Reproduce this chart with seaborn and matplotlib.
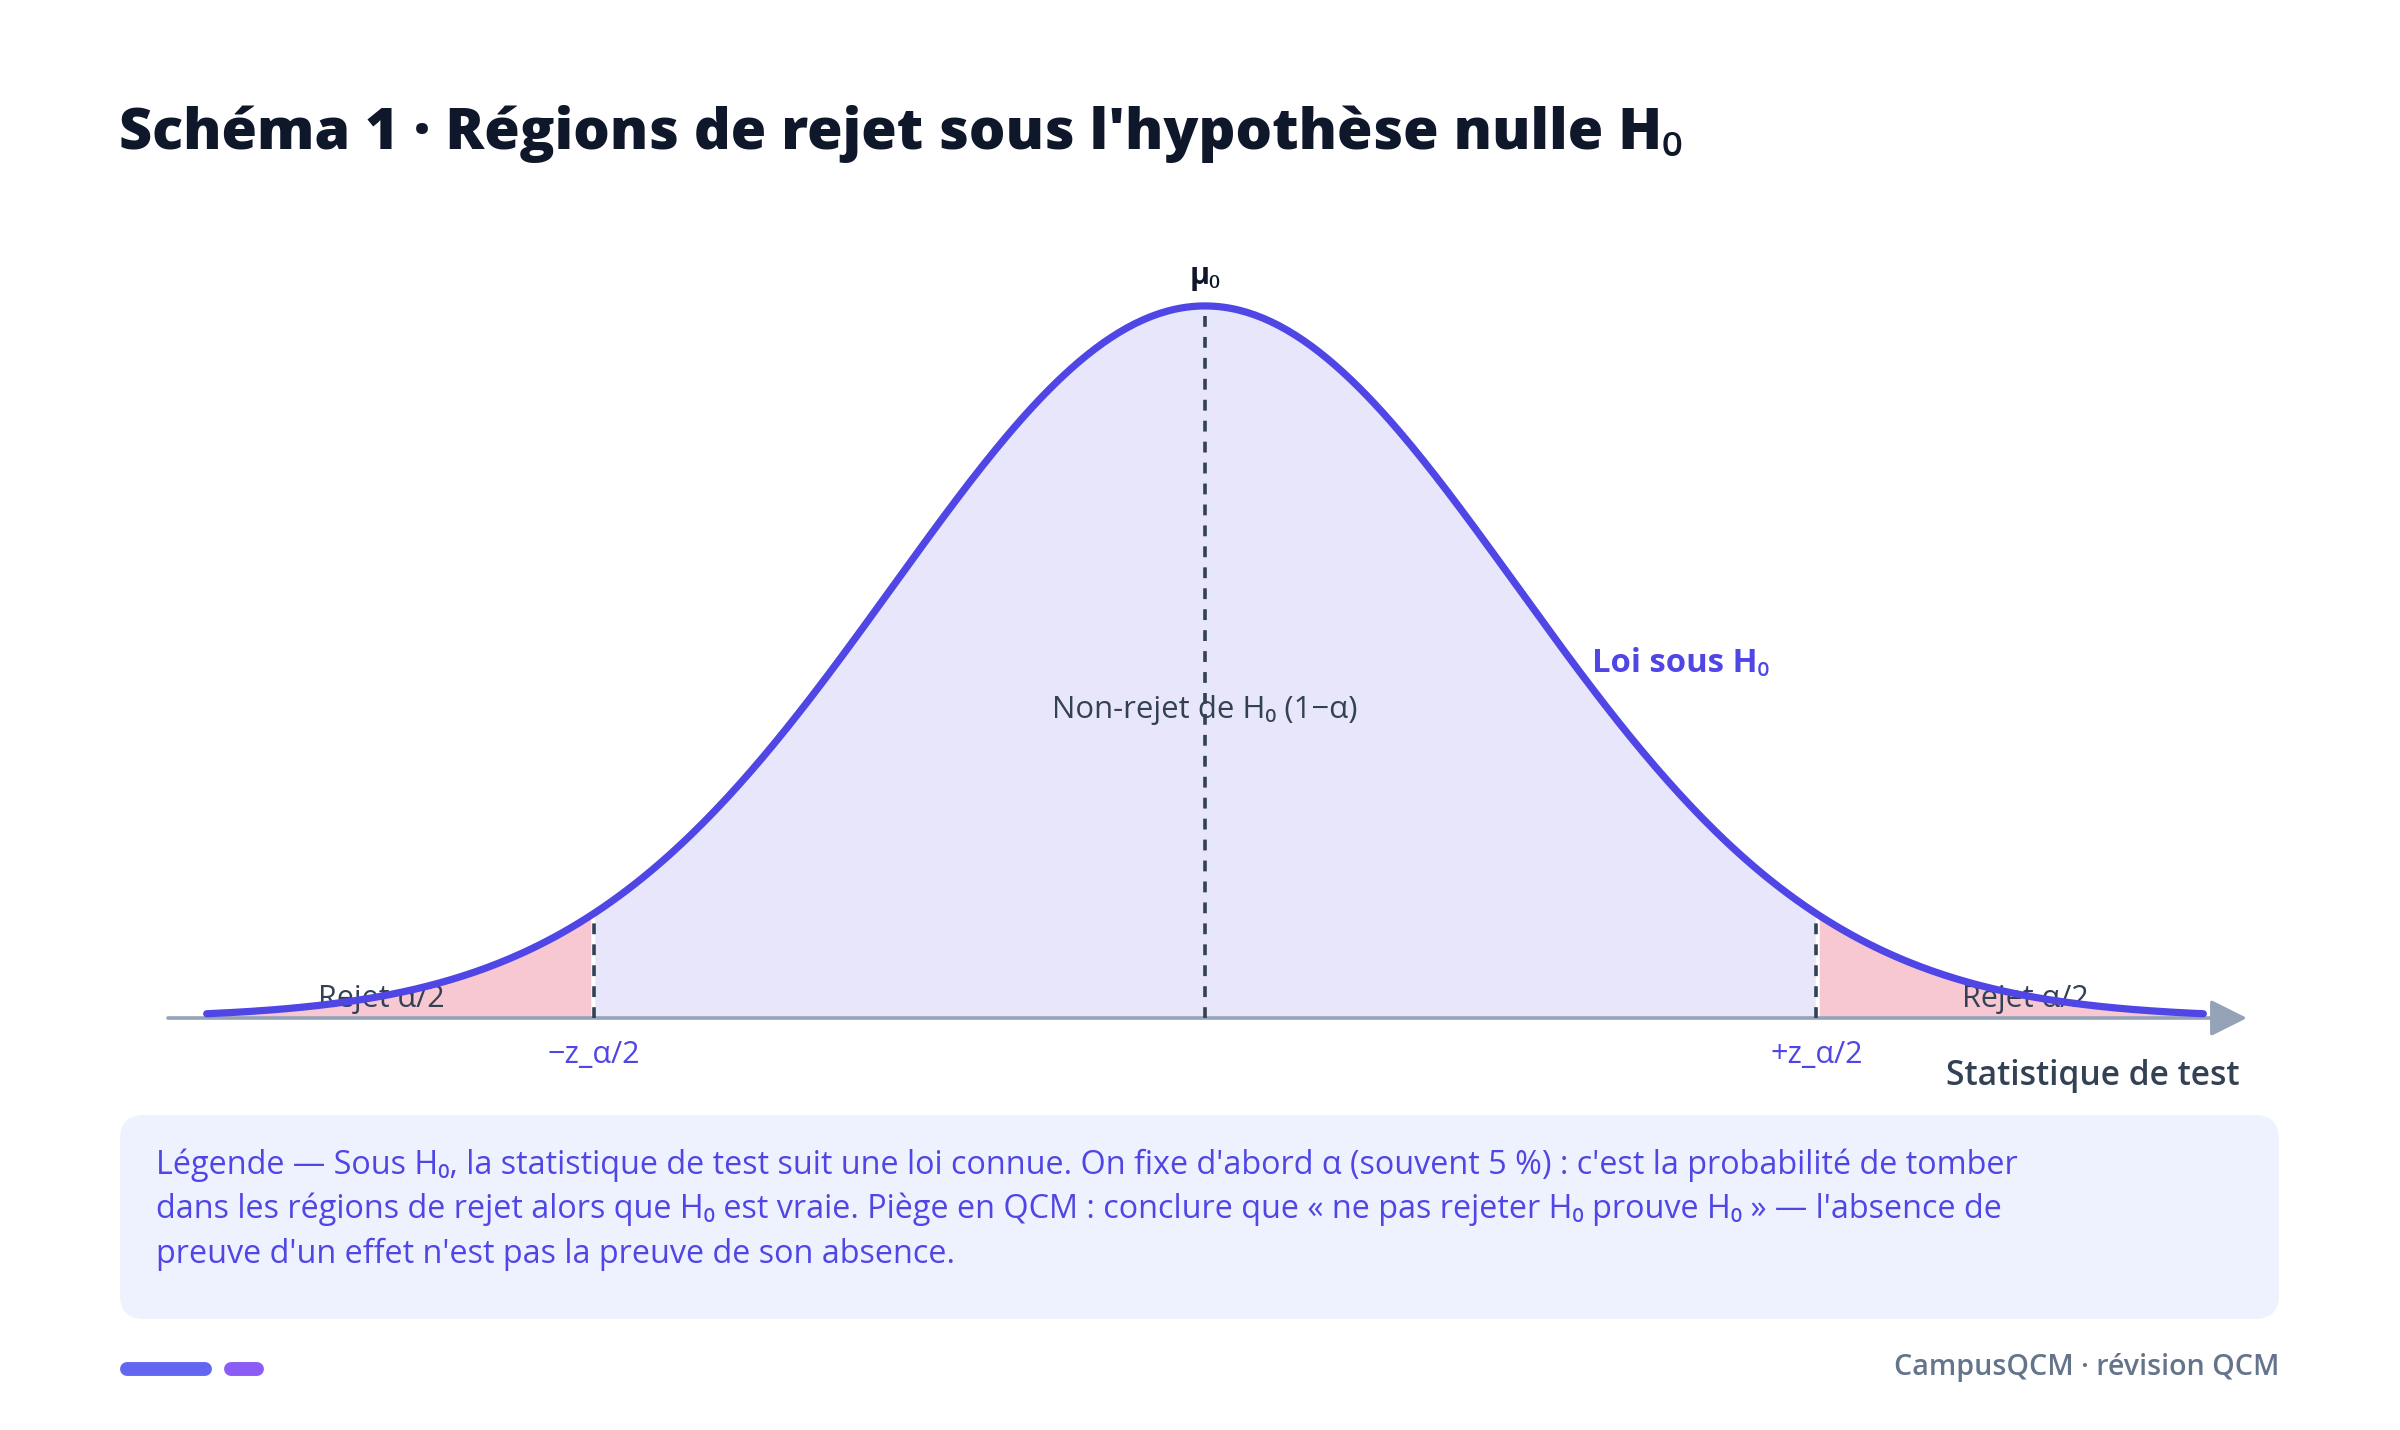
import numpy as np
import pandas as pd
import seaborn as sns
import matplotlib.pyplot as plt
from matplotlib.patches import FancyBboxPatch

# parameters of the sketch (standard normal under H0)
mu0 = 0.0
sigma = 1.0
z_crit = 1.96
x_span = (-3.2, 3.2)

title = "Schéma 1 · Régions de rejet sous l'hypothèse nulle H₀"
curve_label = "Loi sous H₀"
center_label = "Non-rejet de H₀ (1−α)"
tail_label = "Rejet α/2"
crit_labels = ["−z_α/2", "+z_α/2"]
x_label = "Statistique de test"
note_lines = [
    "Légende — Sous H₀, la statistique de test suit une loi connue. On fixe d'abord α (souvent 5 %) : c'est la probabilité de tomber",
    "dans les régions de rejet alors que H₀ est vraie. Piège en QCM : conclure que « ne pas rejeter H₀ prouve H₀ » — l'absence de",
    "preuve d'un effet n'est pas la preuve de son absence.",
]
footer = "CampusQCM · révision QCM"

INDIGO = "#4F46E5"
DARK = "#334155"

sns.set_theme(style="white")
plt.rcParams["font.family"] = ["Open Sans", "Noto Sans", "DejaVu Sans"]

# density curve
x = np.linspace(x_span[0], x_span[1], 500)
y = np.exp(-0.5 * ((x - mu0) / sigma) ** 2) / (sigma * np.sqrt(2 * np.pi))
df = pd.DataFrame({"x": x, "y": y})
peak = y.max()
y_crit = np.exp(-0.5 * z_crit ** 2) / np.sqrt(2 * np.pi)

fig = plt.figure(figsize=(12, 7.15), dpi=200)

# background canvas in pixel coords for the layout pieces
bg = fig.add_axes([0, 0, 1, 1], zorder=0)
bg.set_xlim(0, 2400)
bg.set_ylim(1430, 0)
bg.axis("off")

ax = fig.add_axes([168 / 2400, 412 / 1430, 2079 / 2400, 731.8 / 1430], zorder=1)
ax.patch.set_alpha(0)
ax.set_xlim(-3.324, 3.34)
ax.set_ylim(0, 0.41)
ax.axis("off")

inner = np.abs(x) <= z_crit
ax.fill_between(x, 0, y, where=inner, color="#E7E6FA", lw=0, zorder=1)
ax.fill_between(x, 0, y, where=x <= -z_crit, color="#F8C8D2", lw=0, zorder=1)
ax.fill_between(x, 0, y, where=x >= z_crit, color="#F8C8D2", lw=0, zorder=1)

# x axis arrow
ax.annotate("", xy=(3.34, 0), xytext=(-3.324, 0),
            arrowprops=dict(arrowstyle="-|>,head_length=0.8,head_width=0.4",
                            mutation_scale=14, color="#94A3B8", lw=1.3,
                            shrinkA=0, shrinkB=0),
            annotation_clip=False, zorder=2)

# labels under the curve (drawn below the line)
ax.text(mu0, 0.1726, center_label, ha="center", va="center", fontsize=11.2,
        color=DARK, zorder=2)
ax.text(-2.64, 0.0105, tail_label, ha="center", va="center", fontsize=11,
        color=DARK, zorder=2)
ax.text(2.63, 0.0105, tail_label, ha="center", va="center", fontsize=11,
        color=DARK, zorder=2)

# dashed markers
for xv, top in [(-z_crit, y_crit), (z_crit, y_crit), (mu0, peak)]:
    ax.plot([xv, xv], [0, top], color=DARK, lw=1.3, dashes=(3, 2.8), zorder=3)

sns.lineplot(data=df, x="x", y="y", ax=ax, color=INDIGO, lw=2.6,
             solid_capstyle="round", zorder=4)
ax.set_xlabel("")
ax.set_ylabel("")

ax.annotate("μ₀", xy=(mu0, peak), xytext=(0, 5.5), textcoords="offset points",
            ha="center", va="bottom", fontsize=11, fontweight="bold", color="#0F172A")
bg.text(1592, 663, curve_label, ha="left", va="center", fontsize=11.8,
        fontweight="bold", color=INDIGO)

for xv, lab in zip([-z_crit, z_crit], crit_labels):
    ax.annotate(lab, xy=(xv, 0), xytext=(0, -13.5), textcoords="offset points",
                ha="center", va="center", fontsize=11, color=INDIGO,
                annotation_clip=False)

bg.text(2239, 1076, x_label, ha="right", va="center", fontsize=12.1,
        fontweight="semibold", color=DARK)

# title
bg.text(119, 149, title, ha="left", va="baseline", fontsize=20.7,
        fontweight="heavy", color="#0F172A")

# note box
box = FancyBboxPatch((120, 1115), 2159, 204, boxstyle="round,pad=0,rounding_size=24",
                     fc="#EEF2FF", ec="none")
bg.add_patch(box)
for i, line in enumerate(note_lines):
    bg.text(156, 1165 + i * 44.5, line, ha="left", va="center", fontsize=11.65,
            color=INDIGO)

# footer
bg.plot([127, 205], [1369, 1369], color="#6366F1", lw=5, solid_capstyle="round")
bg.plot([231, 257], [1369, 1369], color="#8B5CF6", lw=5, solid_capstyle="round")
bg.text(2279, 1368, footer, ha="right", va="center", fontsize=10.3,
        fontweight="semibold", color="#64748B")

fig.savefig("out.png", dpi=200, facecolor="white")
